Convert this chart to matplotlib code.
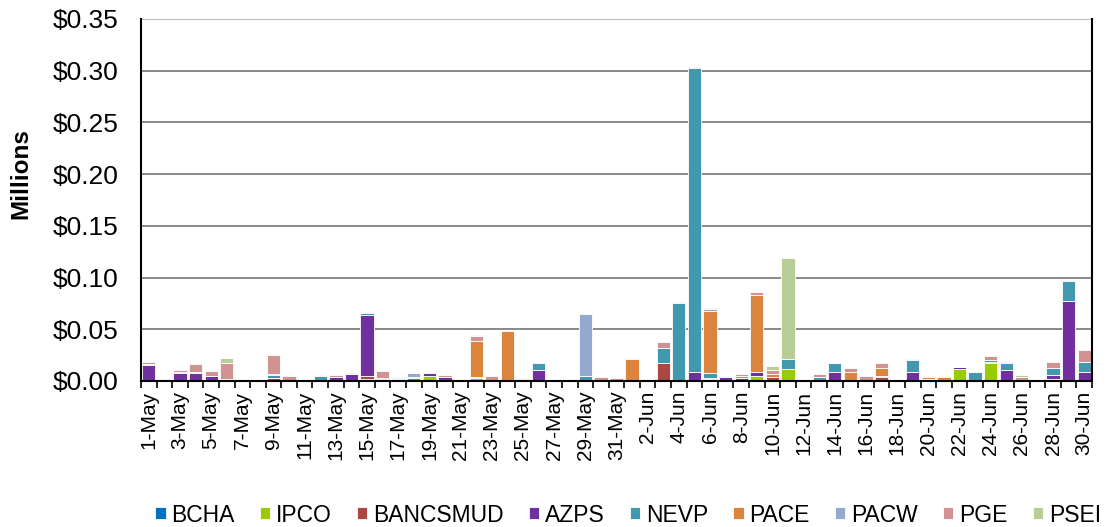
import numpy as np
import pandas as pd
import matplotlib
matplotlib.use("Agg")
import matplotlib.pyplot as plt
from matplotlib.ticker import FuncFormatter, MultipleLocator

plt.rcParams['font.family'] = ['Liberation Sans', 'DejaVu Sans']

days = pd.date_range('2023-05-01', '2023-06-30')
labels = [f"{d.day}-{d.strftime('%b')}" for d in days]

# values in $ millions, one per day (1-May .. 30-Jun)
BCHA = [0, 0, 0, 0, 0, 0.0005, 0, 0, 0, 0,
        0, 0, 0, 0, 0, 0, 0, 0, 0, 0,
        0, 0, 0, 0, 0, 0, 0, 0, 0, 0,
        0, 0, 0, 0, 0, 0, 0, 0, 0, 0,
        0, 0.0013, 0, 0, 0, 0, 0, 0, 0, 0,
        0, 0, 0, 0, 0, 0, 0, 0, 0, 0,
        0]
IPCO = [0, 0, 0, 0, 0, 0, 0, 0, 0, 0,
        0, 0, 0, 0, 0.002, 0, 0, 0, 0.0045, 0,
        0, 0.003, 0, 0, 0, 0, 0, 0, 0, 0,
        0, 0, 0, 0, 0, 0, 0, 0, 0, 0.005,
        0.001, 0.010, 0, 0, 0, 0, 0, 0, 0, 0,
        0, 0, 0.0116, 0, 0.0174, 0, 0, 0, 0.002, 0,
        0]
BANCSMUD = [0, 0, 0, 0, 0, 0, 0, 0, 0.003, 0,
            0, 0, 0, 0.0013, 0.003, 0.002, 0, 0, 0, 0,
            0, 0, 0, 0, 0, 0, 0, 0, 0.001, 0,
            0.001, 0, 0, 0.017, 0, 0, 0.002, 0, 0.0013, 0,
            0.003, 0, 0, 0, 0, 0, 0, 0.004, 0, 0,
            0, 0, 0, 0, 0.0013, 0, 0, 0, 0, 0,
            0]
AZPS = [0.0158, 0, 0.008, 0.008, 0.005, 0, 0, 0, 0, 0.0013,
        0, 0, 0.0035, 0.005, 0.059, 0.001, 0.002, 0, 0.0035, 0.004,
        0, 0.001, 0.0013, 0.0013, 0.0016, 0.011, 0, 0, 0, 0,
        0, 0, 0, 0, 0, 0.0087, 0.001, 0.004, 0.0016, 0.004,
        0, 0, 0, 0.0013, 0.0087, 0.0013, 0, 0.001, 0, 0.009,
        0.0016, 0, 0.0016, 0, 0, 0.011, 0, 0, 0.004, 0.0774,
        0.0087]
NEVP = [0, 0, 0, 0, 0, 0.0012, 0, 0, 0.0025, 0,
        0, 0.005, 0, 0, 0.0016, 0, 0.0013, 0.0025, 0, 0,
        0.0015, 0, 0, 0, 0, 0.006, 0, 0, 0.004, 0,
        0, 0, 0, 0.0145, 0.075, 0.294, 0.005, 0, 0, 0,
        0, 0.0097, 0, 0.003, 0.0084, 0, 0, 0, 0, 0.0116,
        0, 0, 0, 0.0084, 0.002, 0.0064, 0, 0, 0.0068, 0.0193,
        0.010]
PACE = [0.0005, 0, 0, 0.001, 0, 0, 0, 0, 0.0013, 0,
        0, 0, 0, 0, 0, 0, 0, 0.001, 0, 0,
        0, 0.0345, 0, 0.047, 0, 0, 0, 0, 0, 0,
        0, 0.021, 0, 0, 0, 0, 0.0593, 0, 0.0023, 0.074,
        0.003, 0, 0.0003, 0, 0, 0.0077, 0.0005, 0.0077, 0, 0,
        0.0026, 0.0042, 0, 0, 0, 0, 0, 0.0006, 0, 0,
        0]
PACW = [0, 0, 0.0008, 0, 0, 0.0005, 0, 0, 0, 0,
        0, 0, 0, 0, 0, 0, 0.0005, 0.004, 0.0005, 0,
        0.0008, 0, 0, 0, 0, 0, 0, 0, 0.0597, 0,
        0, 0, 0, 0, 0, 0, 0.002, 0.0005, 0, 0,
        0, 0, 0, 0, 0, 0, 0, 0, 0, 0,
        0, 0, 0, 0, 0, 0, 0, 0, 0, 0,
        0]
PGE = [0.0025, 0.002, 0.0018, 0.007, 0.0045, 0.015, 0.0003, 0.0005, 0.0187, 0.004,
       0, 0, 0.002, 0.0005, 0.0007, 0.0065, 0, 0.0005, 0.0005, 0.0015,
       0, 0.0048, 0.004, 0, 0.001, 0, 0, 0, 0, 0.004,
       0.0022, 0.0008, 0, 0.0065, 0.0013, 0.001, 0.001, 0, 0.0013, 0.0032,
       0.004, 0.0006, 0.0002, 0.002, 0.0004, 0.0035, 0.0045, 0.005, 0.0004, 0.001,
       0.0006, 0, 0.0003, 0.0006, 0.003, 0.0013, 0.0035, 0, 0.006, 0.001,
       0.011]
PSEI = [0.001, 0, 0, 0, 0.001, 0.005, 0, 0, 0.0005, 0,
        0, 0.0008, 0, 0.0005, 0.0005, 0, 0, 0, 0, 0,
        0, 0.001, 0, 0, 0, 0, 0, 0, 0, 0,
        0, 0, 0, 0, 0, 0, 0, 0, 0, 0,
        0.0035, 0.097, 0, 0.0016, 0, 0, 0, 0, 0, 0,
        0, 0, 0, 0, 0, 0, 0.002, 0, 0.0003, 0,
        0]

series = [("BCHA", BCHA, "#0070C0"), ("IPCO", IPCO, "#99CC00"),
          ("BANCSMUD", BANCSMUD, "#AA4643"), ("AZPS", AZPS, "#7030A0"),
          ("NEVP", NEVP, "#4198AF"), ("PACE", PACE, "#DB843D"),
          ("PACW", PACW, "#93A9CF"), ("PGE", PGE, "#D19392"),
          ("PSEI", PSEI, "#B9CD96")]

fig = plt.figure(figsize=(11.17, 5.27), dpi=100)
ax = fig.add_axes([141/1117, 1 - 381/527, (1092-141)/1117, (381-19)/527])

x = np.arange(len(labels))
bottom = np.zeros(len(labels))
for name, vals, col in series:
    vals = np.array(vals)
    nz = vals > 0
    # skip empty segments so zero-height bars don't leave edge marks
    ax.bar(x[nz], vals[nz], 0.85, bottom=bottom[nz], color=col, label=name,
           edgecolor='white', linewidth=0.6, zorder=3)
    bottom += vals

ax.set_xlim(-0.5, len(labels) - 0.5)
ax.set_ylim(0, 0.35)
ax.yaxis.set_major_locator(MultipleLocator(0.05))
ax.yaxis.set_major_formatter(FuncFormatter(lambda v, p: f"${v:.2f}"))
ax.grid(axis='y', color='#7f7f7f', linewidth=1.3, zorder=0)
ax.tick_params(axis='y', length=0, labelsize=19, pad=16)

ax.set_xticks(x[::2])
ax.set_xticklabels(labels[::2], rotation=90, fontsize=15)
ax.set_xticks(np.arange(-0.5, len(labels)), minor=True)
ax.tick_params(axis='x', which='major', length=0, pad=7)
ax.tick_params(axis='x', which='minor', length=5, width=1.2, direction='out')

for s in ['left', 'bottom', 'right']:
    ax.spines[s].set_color('black')
    ax.spines[s].set_linewidth(1.5)
    ax.spines[s].set_zorder(5)
ax.spines['top'].set_color('#bfbfbf')

fig.text(21/1117, 1 - 174/527, "Millions", rotation=90, fontsize=17.5,
         fontweight='bold', ha='center', va='center')

fig.legend(loc='center', bbox_to_anchor=(628/1117, 1 - 515/527), ncol=9,
           frameon=False, fontsize=16.5, handlelength=0.45, handleheight=0.45,
           handletextpad=0.25, columnspacing=1.1, borderpad=0)

fig.savefig("out.png", dpi=100)
